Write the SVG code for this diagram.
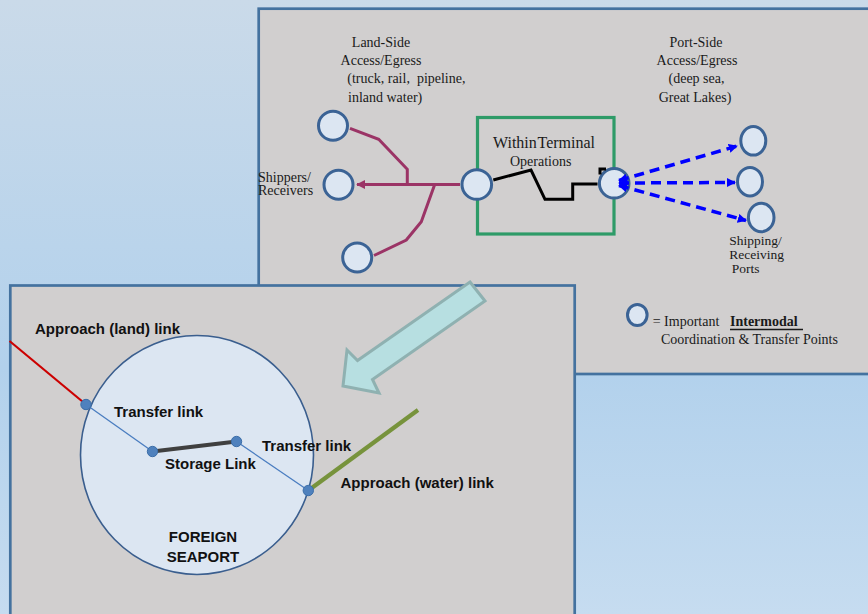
<svg xmlns="http://www.w3.org/2000/svg" width="868" height="614" viewBox="0 0 868 614">
  <defs>
    <linearGradient id="bg" x1="0" y1="0" x2="0" y2="1">
      <stop offset="0" stop-color="#cadae9"/>
      <stop offset="0.6" stop-color="#b2d1ec"/>
      <stop offset="1" stop-color="#c6dcf0"/>
    </linearGradient>
    <marker id="maroonHead" viewBox="0 0 10 10" refX="9" refY="5" markerWidth="3" markerHeight="3" orient="auto" markerUnits="strokeWidth">
      <path d="M0,0 L10,5 L0,10 z" fill="#9b3466"/>
    </marker>
    <marker id="blueHead" viewBox="0 0 10 10" refX="9" refY="5" markerWidth="2.6" markerHeight="2.6" orient="auto-start-reverse" markerUnits="strokeWidth">
      <path d="M0,0 L10,5 L0,10 z" fill="#0000ff"/>
    </marker>
    <style>
      .panel { fill: #d1cfcf; stroke: #44729f; stroke-width: 2.7; }
      .serif { font-family: "Liberation Serif", "Times New Roman", serif; font-size: 14px; fill: #1a1a1a; }
      .small { font-size: 13.5px; }
      .lbl { font-family: "Liberation Sans", Arial, sans-serif; font-size: 15px; font-weight: bold; fill: #111; }
      .tp { fill: #dce6f2; stroke: #3b6395; stroke-width: 3; }
      .maroon { fill: none; stroke: #9b3466; stroke-width: 3; stroke-linejoin: miter; }
      .dash { fill: none; stroke: #0000ff; stroke-width: 3.5; stroke-dasharray: 10 6; }
      .dot { fill: #4f81bd; stroke: #3c6ea8; stroke-width: 1; }
      .thin { stroke: #4a7dc0; stroke-width: 1.3; }
      .mid { text-anchor: middle; }
    </style>
  </defs>

  <!-- backdrop -->
  <rect x="0" y="0" width="868" height="614" fill="url(#bg)"/>

  <!-- upper panel: terminal access / egress -->
  <rect class="panel" x="258.7" y="8.7" width="620" height="365.3"/>

  <g id="terminal-box">
    <rect x="477.5" y="117.5" width="136.5" height="116.5" fill="none" stroke="#2e9b68" stroke-width="3.2"/>
    <text class="serif" x="493" y="147.7" style="font-size:16px">Within</text>
    <text class="serif" x="537.5" y="147.7" style="font-size:16px">Terminal</text>
    <text class="serif" x="510" y="165.7">Operations</text>
  </g>

  <g id="land-top"><circle class="tp" cx="333" cy="125.7" r="14.5"/></g>
  <g id="shippers">
    <circle class="tp" cx="338.5" cy="184.8" r="14.5"/>
    <text class="serif" x="258" y="181.7">Shippers/</text>
    <text class="serif" x="258" y="195">Receivers</text>
  </g>
  <g id="land-bottom"><circle class="tp" cx="357.2" cy="257.5" r="14.5"/></g>
  <g id="terminal-land"><circle class="tp" cx="476.8" cy="184.5" r="14.8"/></g>
  <g id="terminal-port"><circle class="tp" cx="614.2" cy="183.3" r="14.8"/></g>
  <g id="port-top"><ellipse class="tp" cx="753.3" cy="140.8" rx="12.5" ry="14.3"/></g>
  <g id="port-mid"><ellipse class="tp" cx="750" cy="181.7" rx="12.5" ry="14.3"/></g>
  <g id="port-bottom">
    <ellipse class="tp" cx="761.2" cy="217.5" rx="12.8" ry="14.3"/>
    <text class="serif small" x="729.3" y="245">Shipping/</text>
    <text class="serif small" x="729.3" y="259">Receiving</text>
    <text class="serif small" x="731.7" y="273">Ports</text>
  </g>

  <g id="connectors">
    <!-- land side -->
    <polyline class="maroon" points="350,128.4 378.7,139.3 407.3,169.3 407.3,184.5"/>
    <polyline class="maroon" points="434.7,184.5 421.3,221.7 406.3,240 374,255.5"/>
    <line class="maroon" x1="460" y1="184.5" x2="357" y2="184.5" stroke-width="4.5" marker-end="url(#maroonHead)"/>
    <!-- within terminal -->
    <polyline points="493.3,180 531,170 545,199.3 572.7,199.3 572.7,184 597.5,184" fill="none" stroke="#000" stroke-width="3"/>
    <polyline points="600,174.5 600,169 606,169" fill="none" stroke="#000" stroke-width="3"/>
    <!-- port side -->
    <line class="dash" x1="619" y1="180.5" x2="737" y2="146" marker-start="url(#blueHead)" marker-end="url(#blueHead)"/>
    <line class="dash" x1="619" y1="183" x2="735" y2="182.5" marker-start="url(#blueHead)" marker-end="url(#blueHead)"/>
    <line class="dash" x1="619" y1="185.5" x2="746" y2="220.5" marker-start="url(#blueHead)" marker-end="url(#blueHead)"/>
  </g>

  <g id="land-side-title">
    <text class="serif mid" x="381" y="46.7">Land-Side</text>
    <text class="serif mid" x="381" y="65">Access/Egress</text>
    <text class="serif" x="347.3" y="83.3" xml:space="preserve">(truck, rail,  pipeline,</text>
    <text class="serif" x="348" y="101.7">inland water)</text>
  </g>
  <g id="port-side-title">
    <text class="serif mid" x="696" y="46.7">Port-Side</text>
    <text class="serif mid" x="697" y="65">Access/Egress</text>
    <text class="serif mid" x="696.5" y="83.3">(deep sea,</text>
    <text class="serif mid" x="695" y="101.7">Great Lakes)</text>
  </g>

  <g id="legend">
    <ellipse class="tp" cx="637.3" cy="315" rx="9.8" ry="10.5" stroke-width="2.6"/>
    <text class="serif" x="652.7" y="326">= Important</text>
    <text class="serif" x="730" y="326" font-weight="bold">Intermodal</text>
    <line x1="730" y1="329.5" x2="803" y2="329.5" stroke="#1a1a1a" stroke-width="1.3"/>
    <text class="serif" x="661" y="344.3">Coordination &amp; Transfer Points</text>
  </g>

  <!-- lower panel: foreign seaport -->
  <rect class="panel" x="10.3" y="285.5" width="564.4" height="340"/>

  <g id="seaport">
    <ellipse cx="197" cy="455" rx="116.5" ry="119.5" fill="#dce6f2" stroke="#3a5e8e" stroke-width="1.6"/>
    <text class="lbl mid" x="203" y="542.3">FOREIGN</text>
    <text class="lbl mid" x="203" y="562.3">SEAPORT</text>
  </g>

  <g id="seaport-links">
    <line x1="9.5" y1="341" x2="86" y2="404.5" stroke="#cc0000" stroke-width="2.2"/>
    <line class="thin" x1="86" y1="404.5" x2="152.5" y2="451.5"/>
    <line x1="152.5" y1="451.5" x2="236.5" y2="441.5" stroke="#404040" stroke-width="4"/>
    <line class="thin" x1="236.5" y1="441.5" x2="308.3" y2="490.5"/>
    <line x1="308.3" y1="490.5" x2="418" y2="410" stroke="#77933c" stroke-width="4.2"/>
  </g>

  <g id="land-transfer-node"><circle class="dot" cx="86" cy="404.5" r="5.2"/></g>
  <g id="storage-in-node"><circle class="dot" cx="152.5" cy="451.5" r="5.2"/></g>
  <g id="storage-out-node"><circle class="dot" cx="236.5" cy="441.5" r="5.2"/></g>
  <g id="water-transfer-node"><circle class="dot" cx="308.3" cy="490.5" r="5.2"/></g>

  <g id="link-labels">
    <text class="lbl" x="35" y="334">Approach (land) link</text>
    <text class="lbl" x="114" y="416.7">Transfer link</text>
    <text class="lbl" x="165" y="469">Storage Link</text>
    <text class="lbl" x="262" y="450.7">Transfer link</text>
    <text class="lbl" x="340.5" y="488">Approach (water) link</text>
  </g>

  <!-- zoom-in arrow from the terminal view to the seaport view -->
  <g id="zoom-arrow">
    <polygon points="470,282 485,301 372.5,379.5 379,393 343,386 347,350 357.5,360.5" fill="#b7dfe1" stroke="#8fb1b1" stroke-width="3" stroke-linejoin="miter"/>
  </g>
</svg>
